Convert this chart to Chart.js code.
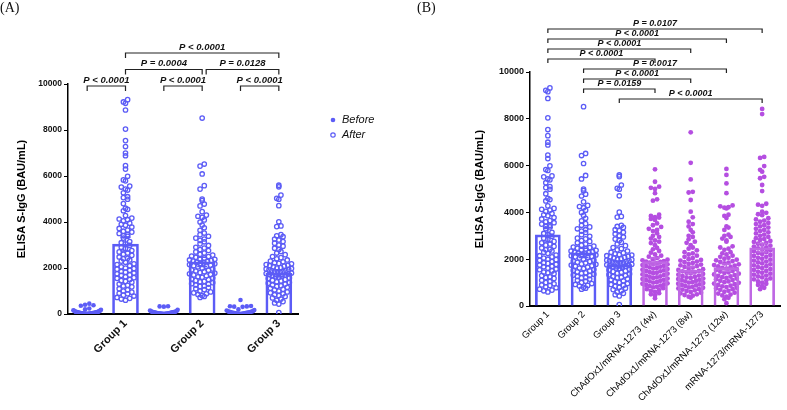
<!DOCTYPE html>
<html>
<head>
<meta charset="utf-8">
<script src="https://cdn.jsdelivr.net/npm/chart.js@4.4.1/dist/chart.umd.min.js"></script>
<style>
  body { margin: 0; background: #fff; }
  #wrap { position: relative; width: 787px; height: 410px; }
  canvas { position: absolute; top: 0; }
  .tag { position: absolute; top: 0; font-family: "Liberation Serif", "Times New Roman", serif; font-size: 14px; color: #111; }
</style>
</head>
<body>
<div id="wrap">
  <canvas id="chartA" width="400" height="410" style="left:0"></canvas>
  <canvas id="chartB" width="387" height="410" style="left:400px"></canvas>
  <div class="tag" style="left:0">(A)</div>
  <div class="tag" style="left:417px">(B)</div>
</div>
<script>
// ---- data ----
const groupsA = ['Group 1', 'Group 2', 'Group 3'];
const groupsB = ['Group 1', 'Group 2', 'Group 3', 'ChAdOx1/mRNA-1273 (4w)', 'ChAdOx1/mRNA-1273 (8w)', 'ChAdOx1/mRNA-1273 (12w)', 'mRNA-1273/mRNA-1273'];
const yTicks = [0, 2000, 4000, 6000, 8000, 10000];

const before1 = [450, 400, 380, 360, 240, 200, 180, 160, 150, 140, 130, 120, 110, 100, 95, 90, 85, 80, 75, 70, 65, 60, 55, 50, 48, 45, 42, 40, 38, 35, 32, 30, 28, 25, 22, 20, 18, 15, 12, 10, 8, 6, 5, 3];
const before2 = [340, 330, 320, 180, 150, 130, 120, 110, 100, 90, 85, 80, 75, 70, 65, 60, 55, 50, 45, 40, 35, 30, 28, 25, 22, 20, 15, 12, 10, 8, 5, 3];
const before3 = [610, 350, 340, 330, 320, 310, 200, 170, 150, 130, 120, 110, 100, 90, 80, 70, 65, 60, 55, 50, 45, 40, 35, 30, 25, 20, 15, 10, 5, 3];

const after1 = [9320, 9220, 9160, 8870, 8040, 7540, 7280, 7000, 6880, 6450, 6300, 5990, 5830, 5790, 5560, 5520, 5430, 5390, 5270, 5100, 5060, 4990, 4800, 4600, 4550, 4490, 4280, 4170, 4130, 4100, 4050, 3950, 3900, 3860, 3780, 3720, 3650, 3600, 3560, 3500, 3450, 3400, 3380, 3300, 3150, 3100, 3050, 2980, 2900, 2850, 2760, 2700, 2650, 2600, 2550, 2480, 2420, 2400, 2350, 2300, 2250, 2180, 2150, 2100, 2050, 2000, 1980, 1950, 1900, 1850, 1820, 1780, 1750, 1700, 1680, 1620, 1580, 1550, 1500, 1450, 1420, 1380, 1300, 1250, 1220, 1180, 1100, 1050, 1000, 950, 900, 880, 820, 780, 720, 680, 650, 600];
const after2 = [8520, 6520, 6430, 6090, 5580, 5430, 5000, 4930, 4780, 4700, 4450, 4300, 4250, 4200, 4090, 4000, 3870, 3750, 3640, 3520, 3450, 3380, 3300, 3260, 3200, 3140, 3050, 2980, 2900, 2870, 2800, 2760, 2700, 2650, 2600, 2560, 2520, 2500, 2470, 2440, 2400, 2380, 2350, 2320, 2300, 2280, 2250, 2220, 2200, 2180, 2150, 2120, 2100, 2080, 2050, 2000, 1960, 1920, 1900, 1870, 1840, 1800, 1780, 1750, 1720, 1700, 1660, 1620, 1600, 1560, 1520, 1500, 1460, 1420, 1400, 1360, 1320, 1300, 1260, 1220, 1200, 1150, 1100, 1060, 1000, 960, 920, 880, 850, 800, 760, 720];
const after3 = [5600, 5530, 5170, 5030, 4990, 4710, 4010, 3830, 3800, 3450, 3400, 3360, 3260, 3220, 3150, 3080, 3000, 2950, 2860, 2800, 2720, 2650, 2580, 2500, 2450, 2400, 2350, 2300, 2270, 2230, 2200, 2180, 2150, 2120, 2100, 2080, 2050, 2020, 2000, 1980, 1960, 1940, 1920, 1900, 1880, 1860, 1840, 1820, 1800, 1780, 1760, 1740, 1720, 1700, 1680, 1650, 1620, 1600, 1570, 1540, 1500, 1470, 1440, 1400, 1370, 1340, 1300, 1260, 1230, 1200, 1160, 1120, 1080, 1050, 1000, 960, 920, 880, 840, 800, 760, 700, 650, 600, 540, 480, 430, 60];
const mix4w = [5840, 5310, 5100, 5050, 5000, 4820, 4560, 4500, 3900, 3850, 3800, 3780, 3720, 3680, 3530, 3450, 3380, 3300, 3250, 3200, 3110, 3000, 2950, 2880, 2800, 2750, 2690, 2600, 2480, 2420, 2350, 2280, 2200, 2150, 2110, 2050, 2000, 1980, 1950, 1920, 1900, 1880, 1850, 1820, 1800, 1780, 1750, 1720, 1700, 1680, 1650, 1620, 1600, 1580, 1550, 1520, 1500, 1480, 1450, 1420, 1400, 1380, 1350, 1320, 1300, 1270, 1250, 1220, 1200, 1170, 1150, 1120, 1100, 1080, 1050, 1020, 1000, 970, 950, 920, 900, 870, 850, 820, 800, 760, 720, 680, 640, 600, 550, 500, 450, 330];
const mix8w = [7420, 6120, 5410, 4880, 4850, 4530, 4030, 3790, 3600, 3500, 3400, 3250, 3150, 3000, 2950, 2850, 2750, 2700, 2600, 2500, 2450, 2380, 2300, 2250, 2200, 2150, 2100, 2050, 2000, 1970, 1940, 1900, 1870, 1840, 1800, 1770, 1740, 1700, 1670, 1640, 1600, 1570, 1540, 1500, 1480, 1450, 1420, 1400, 1370, 1340, 1300, 1280, 1250, 1220, 1200, 1170, 1150, 1120, 1100, 1080, 1050, 1020, 1000, 980, 950, 920, 900, 880, 850, 820, 800, 780, 750, 720, 700, 670, 640, 600, 570, 540, 500, 470, 440, 400, 360];
const mix12w = [5860, 5600, 5240, 4820, 4300, 4260, 4220, 4200, 4170, 3900, 3850, 3760, 3400, 3350, 3250, 3050, 3000, 2950, 2880, 2800, 2750, 2550, 2500, 2450, 2400, 2300, 2250, 2200, 2150, 2100, 2060, 2020, 1980, 1950, 1920, 1880, 1850, 1820, 1780, 1750, 1720, 1690, 1660, 1630, 1600, 1570, 1540, 1500, 1470, 1440, 1410, 1380, 1350, 1320, 1290, 1260, 1230, 1200, 1170, 1140, 1110, 1080, 1050, 1020, 990, 960, 930, 900, 870, 840, 810, 780, 750, 720, 690, 650, 610, 570, 530, 490, 450, 400, 350, 290, 120];
const mrna = [8420, 8200, 6370, 6330, 5980, 5820, 5740, 5520, 5460, 5170, 4910, 4370, 4330, 4280, 4030, 3980, 3920, 3880, 3750, 3700, 3650, 3600, 3550, 3500, 3450, 3400, 3350, 3300, 3250, 3200, 3150, 3100, 3050, 3000, 2950, 2900, 2860, 2820, 2780, 2740, 2700, 2660, 2620, 2580, 2540, 2500, 2460, 2420, 2380, 2340, 2300, 2260, 2220, 2180, 2140, 2100, 2060, 2020, 1980, 1940, 1900, 1860, 1820, 1780, 1740, 1700, 1660, 1620, 1580, 1540, 1500, 1460, 1420, 1380, 1340, 1300, 1260, 1220, 1180, 1140, 1100, 1050, 1000, 950, 900, 850, 780, 720];

const meansBefore = [70, 60, 70];
const semBefore = [15, 12, 18];
const meansAfter = [3040, 2270, 1770];
const semAfter = [300, 200, 150];
const meansB = [3040, 2270, 1770, 1900, 1530, 1640, 2490];
const semB = [300, 200, 150, 150, 150, 160, 180];

// pairwise comparisons (category numbers on the x axis) and their P values
const statsA = [
  { from: 1, to: 2, tier: 0, text: 'P < 0.0001' },
  { from: 3, to: 4, tier: 0, text: 'P < 0.0001' },
  { from: 5, to: 6, tier: 0, text: 'P < 0.0001' },
  { from: 2, to: 4, tier: 1, text: 'P = 0.0004' },
  { from: 4, to: 6, tier: 1, text: 'P = 0.0128' },
  { from: 2, to: 6, tier: 2, text: 'P < 0.0001' }
];
const statsB = [
  { from: 3, to: 7, tier: 0, text: 'P < 0.0001' },
  { from: 2, to: 4, tier: 1, text: 'P = 0.0159' },
  { from: 2, to: 5, tier: 2, text: 'P < 0.0001' },
  { from: 2, to: 6, tier: 3, text: 'P = 0.0017' },
  { from: 1, to: 4, tier: 4, text: 'P < 0.0001' },
  { from: 1, to: 5, tier: 5, text: 'P < 0.0001' },
  { from: 1, to: 6, tier: 6, text: 'P < 0.0001' },
  { from: 1, to: 7, tier: 7, text: 'P = 0.0107' }
];

// ---- styling ----
const FONT = '"Liberation Sans", Arial, sans-serif';
const BLUE = '#5c5cf6';
const PURPLE = '#b54ee1';
const PURPLE_BAR = '#bf68e4';

// spread points of one column sideways, row by row (GraphPad-like scatter)
function swarm(values, center, bin, step, half) {
  const rows = new Map();
  values.slice().sort((a, b) => a - b).forEach(v => {
    const k = Math.floor(v / bin);
    if (!rows.has(k)) rows.set(k, []);
    rows.get(k).push(v);
  });
  const pts = [];
  rows.forEach(row => {
    const n = row.length;
    const s = n > 1 ? Math.min(step, 2 * half / (n - 1)) : 0;
    const slots = [];
    for (let j = 0; j < n; j++) slots.push((j - (n - 1) / 2) * s);
    slots.sort((a, b) => Math.abs(a) - Math.abs(b));
    row.forEach((v, i) => pts.push({ x: center + slots[i], y: v }));
  });
  return pts;
}

const errorBars = {
  id: 'errorBars',
  afterDatasetsDraw(chart, args, opts) {
    const { ctx, scales: { x, y } } = chart;
    ctx.save();
    ctx.lineWidth = 1.5;
    opts.items.forEach(it => {
      const px = x.getPixelForValue(it.x);
      const top = y.getPixelForValue(it.mean + it.sem);
      const bot = y.getPixelForValue(Math.max(0, it.mean - it.sem));
      ctx.strokeStyle = it.color;
      ctx.beginPath();
      ctx.moveTo(px, bot); ctx.lineTo(px, top);
      ctx.moveTo(px - opts.cap, top); ctx.lineTo(px + opts.cap, top);
      ctx.moveTo(px - opts.cap, bot); ctx.lineTo(px + opts.cap, bot);
      ctx.stroke();
    });
    ctx.restore();
  }
};

const brackets = {
  id: 'brackets',
  afterDraw(chart, args, opts) {
    const { ctx, chartArea, scales: { x } } = chart;
    ctx.save();
    ctx.strokeStyle = '#222';
    ctx.lineWidth = 1.2;
    ctx.fillStyle = '#111';
    ctx.font = opts.font;
    ctx.textAlign = 'center';
    ctx.textBaseline = 'bottom';
    opts.items.forEach(b => {
      const yl = chartArea.top + opts.base - b.tier * opts.gap;
      // leave a small gap when a bracket on the same tier ends where this one starts
      const shared = opts.items.some(o => o !== b && o.tier === b.tier && o.to === b.from);
      const x1 = x.getPixelForValue(b.from) + (shared ? 4 : 0);
      const x2 = x.getPixelForValue(b.to);
      ctx.beginPath();
      ctx.moveTo(x1, yl + opts.leg); ctx.lineTo(x1, yl); ctx.lineTo(x2, yl); ctx.lineTo(x2, yl + opts.leg);
      ctx.stroke();
      ctx.fillText(b.text, (x1 + x2) / 2, yl - 1);
    });
    ctx.restore();
  }
};

const keyA = {
  id: 'keyA',
  afterDraw(chart) {
    const { ctx, chartArea } = chart;
    const kx = chartArea.right + 35;
    ctx.save();
    ctx.font = 'italic 11px ' + FONT;
    ctx.textBaseline = 'middle';
    ctx.fillStyle = BLUE;
    ctx.beginPath(); ctx.arc(kx, 120, 2.3, 0, Math.PI * 2); ctx.fill();
    ctx.strokeStyle = BLUE; ctx.lineWidth = 1.2;
    ctx.beginPath(); ctx.arc(kx, 135, 2.2, 0, Math.PI * 2); ctx.stroke();
    ctx.fillStyle = '#111';
    ctx.fillText('Before', kx + 9, 120);
    ctx.fillText('After', kx + 9, 135);
    ctx.restore();
  }
};

function yAxis(width, titlePad, tickSize) {
  return {
    type: 'linear', min: 0, max: 10000,
    afterBuildTicks: s => { s.ticks = yTicks.map(v => ({ value: v })); },
    afterFit: s => { s.width = width; },
    grid: { drawOnChartArea: false, drawTicks: true, tickLength: 4, color: '#000', lineWidth: 1 },
    border: { display: true, color: '#000', width: 1.5 },
    ticks: { padding: 2, color: '#111', callback: v => v, font: { family: FONT, size: tickSize, weight: 'bold' } },
    title: { display: true, text: 'ELISA S-IgG (BAU/mL)', color: '#000', padding: { top: titlePad, bottom: 0 }, font: { family: FONT, size: 11, weight: 'bold' } }
  };
}

// ---- panel A ----
const befores = [before1, before2, before3];
const afters = [after1, after2, after3];
const beforePts = [].concat(...befores.map((g, i) => swarm(g, 2 * i + 1, 200, 0.11, 0.36)));
const afterPts = [].concat(...afters.map((g, i) => swarm(g, 2 * i + 2, 200, 0.11, 0.33)));
const barsA = [];
const errA = [];
groupsA.forEach((g, i) => {
  barsA.push({ x: 2 * i + 1, y: meansBefore[i] }, { x: 2 * i + 2, y: meansAfter[i] });
  errA.push({ x: 2 * i + 2, mean: meansAfter[i], sem: semAfter[i], color: BLUE });
});

new Chart(document.getElementById('chartA'), {
  data: {
    datasets: [
      { type: 'bar', data: barsA, barThickness: 26, backgroundColor: 'rgba(0,0,0,0)', borderColor: BLUE, borderWidth: 2, order: 0 },
      { type: 'scatter', label: 'Before', data: beforePts, pointRadius: 2.3, backgroundColor: BLUE, borderWidth: 0, order: 1 },
      { type: 'scatter', label: 'After', data: afterPts, pointRadius: 2.2, backgroundColor: 'rgba(0,0,0,0)', borderColor: BLUE, borderWidth: 1.3, order: 1 }
    ]
  },
  options: {
    responsive: false,
    animation: false,
    layout: { padding: { top: 84, right: 102, bottom: 0, left: 0 } },
    plugins: {
      legend: { display: false },
      tooltip: { enabled: false },
      errorBars: { items: errA, cap: 5 },
      brackets: { items: statsA, base: 2, gap: 16.5, leg: 5, font: 'italic bold 9.5px ' + FONT }
    },
    scales: {
      x: {
        type: 'linear', min: 0.5, max: 6.5, offset: false,
        afterBuildTicks: s => { s.ticks = groupsA.map((g, i) => ({ value: 2 * i + 2 })); },
        afterFit: s => { s.height = 96; },
        grid: { display: false },
        border: { display: true, color: '#000', width: 2 },
        ticks: { callback: (v, i) => groupsA[i], minRotation: 45, maxRotation: 45, autoSkip: false, padding: -5, color: '#111', font: { family: FONT, size: 11, weight: 'bold' } }
      },
      y: yAxis(68, 15, 8.5)
    }
  },
  plugins: [errorBars, brackets, keyA]
});

// ---- panel B ----
const columnsB = [after1, after2, after3, mix4w, mix8w, mix12w, mrna];
const bluePts = [].concat(...columnsB.slice(0, 3).map((g, i) => swarm(g, i + 1, 200, 0.115, 0.35)));
const purplePts = [].concat(...columnsB.slice(3).map((g, i) => swarm(g, i + 4, 200, 0.115, 0.35)));
const barsB = meansB.map((m, i) => ({ x: i + 1, y: m }));
const errB = meansB.map((m, i) => ({ x: i + 1, mean: m, sem: semB[i], color: i < 3 ? BLUE : PURPLE_BAR }));

new Chart(document.getElementById('chartB'), {
  data: {
    datasets: [
      { type: 'bar', data: barsB, barThickness: 25, backgroundColor: 'rgba(0,0,0,0)', borderColor: meansB.map((m, i) => i < 3 ? BLUE : PURPLE_BAR), borderWidth: 2, order: 0 },
      { type: 'scatter', data: bluePts, pointRadius: 2.2, backgroundColor: 'rgba(0,0,0,0)', borderColor: BLUE, borderWidth: 1.3, order: 1 },
      { type: 'scatter', data: purplePts, pointRadius: 2.4, backgroundColor: PURPLE, borderWidth: 0, order: 1 }
    ]
  },
  options: {
    responsive: false,
    animation: false,
    layout: { padding: { top: 72, right: 7, bottom: 0, left: 50 } },
    plugins: {
      legend: { display: false },
      tooltip: { enabled: false },
      errorBars: { items: errB, cap: 5 },
      brackets: { items: statsB, base: 27, gap: 10, leg: 4, font: 'italic bold 9px ' + FONT }
    },
    scales: {
      x: {
        type: 'linear', min: 0.5, max: 7.5, offset: false,
        afterBuildTicks: s => { s.ticks = groupsB.map((g, i) => ({ value: i + 1 })); },
        afterFit: s => { s.height = 104; },
        grid: { display: false },
        border: { display: true, color: '#000', width: 2 },
        ticks: { callback: (v, i) => groupsB[i], minRotation: 45, maxRotation: 45, autoSkip: false, padding: -5, color: '#000', font: { family: FONT, size: 9.5 } }
      },
      y: yAxis(80, 23, 9)
    }
  },
  plugins: [errorBars, brackets]
});
</script>
</body>
</html>
